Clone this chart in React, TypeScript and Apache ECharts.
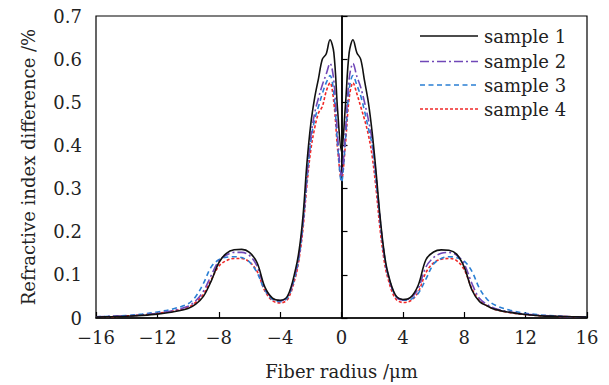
import React, { useEffect, useRef } from "react";
import * as echarts from "echarts";

const X = [-16, -15, -14, -13, -12, -11, -10, -9.5, -9, -8.5, -8, -7.5, -7, -6.5, -6, -5.5, -5, -4.5, -4, -3.5, -3, -2.75, -2.5, -2.25, -2, -1.75, -1.5, -1.25, -1, -0.75, -0.5, -0.25, 0, 0.25, 0.5, 0.75, 1, 1.25, 1.5, 1.75, 2, 2.25, 2.5, 2.75, 3, 3.5, 4, 4.5, 5, 5.5, 6, 6.5, 7, 7.5, 8, 8.5, 9, 9.5, 10, 11, 12, 13, 14, 15, 16];

const sample1 = [0.002, 0.003, 0.004, 0.006, 0.009, 0.014, 0.022, 0.032, 0.05, 0.085, 0.128, 0.15, 0.158, 0.159, 0.152, 0.128, 0.072, 0.046, 0.041, 0.052, 0.112, 0.16, 0.24, 0.36, 0.45, 0.51, 0.555, 0.6, 0.612, 0.645, 0.615, 0.48, 0.385, 0.49, 0.615, 0.645, 0.615, 0.6, 0.55, 0.5, 0.43, 0.34, 0.24, 0.16, 0.108, 0.054, 0.043, 0.048, 0.076, 0.135, 0.153, 0.158, 0.157, 0.148, 0.118, 0.065, 0.038, 0.028, 0.02, 0.013, 0.008, 0.005, 0.004, 0.003, 0.002];

const sample2 = [0.003, 0.004, 0.005, 0.007, 0.011, 0.017, 0.027, 0.04, 0.062, 0.098, 0.132, 0.146, 0.152, 0.152, 0.145, 0.12, 0.07, 0.045, 0.04, 0.05, 0.105, 0.15, 0.225, 0.33, 0.42, 0.475, 0.51, 0.54, 0.565, 0.59, 0.55, 0.42, 0.33, 0.43, 0.555, 0.59, 0.56, 0.535, 0.5, 0.46, 0.41, 0.33, 0.235, 0.155, 0.105, 0.052, 0.042, 0.046, 0.068, 0.118, 0.14, 0.15, 0.152, 0.146, 0.125, 0.08, 0.045, 0.031, 0.022, 0.014, 0.009, 0.006, 0.004, 0.003, 0.002];

const sample3 = [0.003, 0.004, 0.006, 0.009, 0.014, 0.021, 0.033, 0.05, 0.08, 0.118, 0.135, 0.141, 0.142, 0.14, 0.13, 0.105, 0.065, 0.043, 0.038, 0.048, 0.1, 0.145, 0.22, 0.32, 0.41, 0.46, 0.49, 0.52, 0.545, 0.562, 0.52, 0.4, 0.315, 0.41, 0.53, 0.562, 0.54, 0.515, 0.48, 0.44, 0.4, 0.32, 0.23, 0.155, 0.105, 0.053, 0.041, 0.043, 0.057, 0.09, 0.125, 0.138, 0.142, 0.14, 0.132, 0.108, 0.068, 0.043, 0.03, 0.018, 0.011, 0.007, 0.005, 0.003, 0.002];

const sample4 = [0.002, 0.003, 0.005, 0.007, 0.011, 0.016, 0.025, 0.036, 0.055, 0.088, 0.12, 0.133, 0.138, 0.138, 0.13, 0.108, 0.063, 0.04, 0.035, 0.044, 0.095, 0.14, 0.21, 0.31, 0.39, 0.44, 0.475, 0.49, 0.525, 0.545, 0.5, 0.39, 0.32, 0.4, 0.51, 0.545, 0.52, 0.49, 0.46, 0.425, 0.375, 0.3, 0.21, 0.14, 0.095, 0.046, 0.036, 0.04, 0.06, 0.105, 0.128, 0.136, 0.138, 0.133, 0.112, 0.068, 0.04, 0.028, 0.02, 0.012, 0.008, 0.005, 0.004, 0.003, 0.002];

const seriesNames = ["sample 1", "sample 2", "sample 3", "sample 4"];
const seriesColors = ["#111111", "#7048b8", "#2a7fd4", "#f02828"];

const FONT = "DejaVu Serif";

export default function App() {
  const ref = useRef<HTMLDivElement>(null);
  useEffect(() => {
    if (!ref.current) return;
    const chart = echarts.init(ref.current, null, { renderer: "svg" });
    const all = [sample1, sample2, sample3, sample4];
    const dashes: any[] = ["solid", [9, 3, 2, 3], [5, 3.5], [3, 2]];
    const dashArr: any[] = [null, [9, 3, 2, 3], [5, 3.5], [3, 2]];
    const series: any[] = all.map((vals, i) => ({
      name: seriesNames[i],
      type: "line",
      data: X.map((x, k) => [x, vals[k]]),
      showSymbol: false,
      symbol: "none",
      smooth: 0.35,
      lineStyle: { color: seriesColors[i], width: 1.6, type: dashes[i] },
      itemStyle: { color: seriesColors[i] },
      z: 10 - i,
    }));
    series[0].markLine = {
      silent: true,
      symbol: ["none", "none"],
      label: { show: false },
      lineStyle: { color: "#000", width: 1.5, type: "solid" },
      data: [{ xAxis: 0 }],
    };
    const legendYs = [36, 61.5, 85, 109];
    const graphic: any[] = [];
    seriesNames.forEach((name, i) => {
      graphic.push({
        type: "line",
        silent: true,
        shape: { x1: 420, y1: legendYs[i], x2: 478, y2: legendYs[i] },
        style: { stroke: seriesColors[i], lineWidth: 1.6, lineDash: dashArr[i] || undefined },
      });
      graphic.push({
        type: "text",
        silent: true,
        x: 484,
        y: legendYs[i],
        style: {
          text: name,
          fill: "#222",
          font: `18px "${FONT}"`,
          verticalAlign: "middle",
          align: "left",
        },
      });
    });
    chart.setOption({
      animation: false,
      backgroundColor: "#fff",
      grid: {
        left: 96,
        right: 22,
        top: 16,
        bottom: 67,
        show: true,
        borderColor: "#000",
        borderWidth: 1.2,
      },
      graphic,
      xAxis: {
        type: "value",
        min: -16,
        max: 16,
        interval: 4,
        name: "Fiber radius /\u03bcm",
        nameLocation: "middle",
        nameGap: 44,
        nameTextStyle: { fontFamily: FONT, fontSize: 18, color: "#222" },
        axisLine: { lineStyle: { color: "#000", width: 1.5 } },
        axisTick: { inside: true, length: 6, lineStyle: { color: "#000", width: 1.2 } },
        axisLabel: {
          fontFamily: FONT,
          fontSize: 18,
          color: "#222",
          margin: 10,
          formatter: (v: number) => String(v).replace("-", "\u2212"),
        },
        splitLine: { show: false },
      },
      yAxis: {
        type: "value",
        min: 0,
        max: 0.7,
        interval: 0.1,
        name: "Refractive index difference /%",
        nameLocation: "middle",
        nameGap: 59,
        nameTextStyle: { fontFamily: FONT, fontSize: 18, color: "#222" },
        axisLine: { show: true, lineStyle: { color: "#000", width: 1.5 } },
        axisTick: { show: true, inside: true, length: 6, lineStyle: { color: "#000", width: 1.2 } },
        axisLabel: {
          fontFamily: FONT,
          fontSize: 18,
          color: "#222",
          margin: 14,
          formatter: (v: number) => (v === 0 ? "0" : v.toFixed(1)),
        },
        splitLine: { show: false },
      },
      series,
    });
    return () => chart.dispose();
  }, []);
  return (
    <div
      ref={ref}
      style={{ position: "absolute", left: 0, top: 0, width: 609, height: 385 }}
    />
  );
}
